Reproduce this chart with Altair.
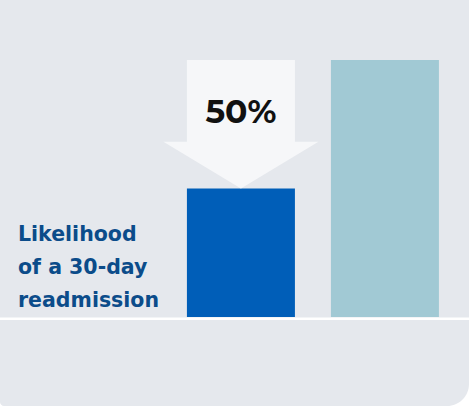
import altair as alt
import pandas as pd

# data
groups = ["With program", "Without program"]
values = [50, 100]
bar_colors = ["#005eb8", "#a1c9d4"]
change_label = "50%"
label_lines = ["Likelihood", "of a 30-day", "readmission"]

W, H = 474, 406

bars_df = pd.DataFrame({"group": groups, "value": values})
arrow_df = pd.DataFrame({"group": [groups[0]], "mid": [(values[0] + values[1]) / 2], "label": [change_label]})

xscale = alt.Scale(domain=groups, paddingInner=0.25, paddingOuter=0.7708, align=0.842)
yscale = alt.Scale(domain=[-34.63, 123.35], nice=False, zero=False)

panel = alt.Chart(pd.DataFrame({"a": [0]})).mark_rect(
    color="#e5e8ed", cornerRadiusBottomRight=22, cornerRadiusBottomLeft=4
).encode(x=alt.value(0), x2=alt.value(469), y=alt.value(0), y2=alt.value(406))

bars = alt.Chart(bars_df).mark_bar().encode(
    x=alt.X("group:N", scale=xscale, axis=None),
    y=alt.Y("value:Q", scale=yscale, axis=None),
    color=alt.Color("group:N", scale=alt.Scale(domain=groups, range=bar_colors), legend=None),
)

baseline = alt.Chart(pd.DataFrame({"v": [0]})).mark_rule(
    color="white", strokeWidth=2.5, yOffset=1.8
).encode(y=alt.Y("v:Q", scale=yscale, axis=None), x=alt.value(0), x2=alt.value(469))

arrow_path = "M-0.697,-0.829L0.697,-0.829L0.697,0.225L1,0.225L0,0.829L-1,0.225L-0.697,0.225Z"
arrow = alt.Chart(arrow_df).mark_point(
    shape=arrow_path, size=155 * 155, filled=True, opacity=1, color="#f6f7f9", strokeWidth=0
).encode(
    x=alt.X("group:N", scale=xscale, axis=None),
    y=alt.Y("mid:Q", scale=yscale, axis=None),
)

pct = alt.Chart(arrow_df).mark_text(
    font="Montserrat, Lato, sans-serif", fontWeight="bold", fontSize=33, color="#111111",
    baseline="alphabetic", align="center", dy=-1.5
).encode(
    x=alt.X("group:N", scale=xscale, axis=None),
    y=alt.Y("mid:Q", scale=yscale, axis=None),
    text="label:N",
)

label = alt.Chart(pd.DataFrame({"t": [label_lines]})).mark_text(
    font="DejaVu Sans", fontWeight="bold", fontSize=20.5, color="#0b4c8a",
    align="left", baseline="alphabetic", lineHeight=33
).encode(x=alt.value(18), y=alt.value(240.7), text="t")

chart = alt.layer(panel, bars, baseline, arrow, pct, label).properties(
    width=W, height=H, autosize=alt.AutoSizeParams(type="none"), padding=0, background="white"
).configure_view(stroke=None)

chart.save("out.html", embed_options={"renderer": "svg", "actions": False})
